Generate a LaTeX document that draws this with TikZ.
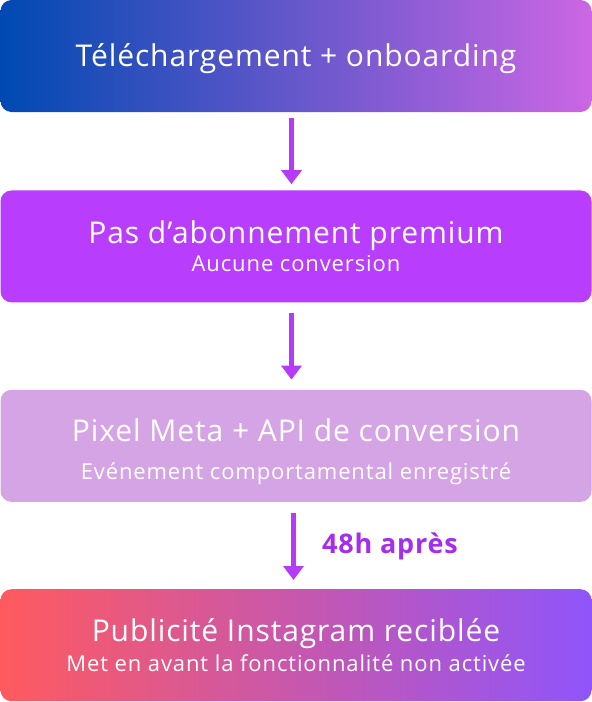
\documentclass[tikz,border=0pt]{standalone}
\usepackage{fontspec}
\setmainfont{Open Sans}
\newfontfamily\titlefont[LetterSpace=3]{Open Sans}
\newfontfamily\subfont[LetterSpace=4]{Open Sans}
\usepackage{tikz}
\usetikzlibrary{arrows.meta}
\usetikzlibrary{positioning}

\definecolor{downloadleft}{HTML}{0049B2}
\definecolor{downloadright}{HTML}{CC66E4}
\definecolor{premiumfill}{HTML}{B83DFD}
\definecolor{pixelfill}{HTML}{D5A4E5}
\definecolor{adleft}{HTML}{FF5A5F}
\definecolor{adright}{HTML}{8F55FB}
\definecolor{flowarrow}{HTML}{B53BF8}
\definecolor{delaytext}{HTML}{A52EEC}

\newcommand{\subline}[1]{{\subfont\fontsize{22pt}{24pt}\selectfont #1}}

\begin{document}
\begin{tikzpicture}[
		x=1pt,
		y=1pt,
		font=\titlefont\fontsize{30pt}{28pt}\selectfont,
		>={Triangle[length=14,width=20]},
		node distance=78
	]
		\tikzset{stepbox/.style={
			rectangle,
			rounded corners=11,
			minimum width=591,
			minimum height=112,
			inner sep=0,
			text=white,
			align=center,
		}}
		\tikzset{flow/.style={
			->,
			draw=flowarrow,
			fill=flowarrow,
			line width=4.5,
		}}

		\useasboundingbox (0,0) rectangle (592,-702);

		\node[stepbox, left color=downloadleft, right color=downloadright, text height=21.4, text depth=0] (download) at (296,-56) {Téléchargement + onboarding};
		\node[stepbox, fill=premiumfill, below=78 of download] (nopremium) {Pas d’abonnement premium\\\subline{Aucune conversion}};
		\node[stepbox, fill=pixelfill, below=87 of nopremium, text height=72] (pixel) {Pixel Meta + API de conversion\\[9.5pt]\subline{Evénement comportamental enregistré}};
		\node[stepbox, left color=adleft, right color=adright, below=87 of pixel] (retarget) {Publicité Instagram reciblée\\[2pt]\subline{Met en avant la fonctionnalité non activée}};

		\draw[flow] ([xshift=-4.5,yshift=-6]download.south) -- ([xshift=-4.5,yshift=6]nopremium.north);
		\draw[flow] ([xshift=-4.5,yshift=-10]nopremium.south) -- ([xshift=-4.5,yshift=10]pixel.north);
		\draw[flow] ([xshift=-2.5,yshift=-11]pixel.south) -- node[right=23, text=delaytext, font=\titlefont\fontsize{27pt}{29pt}\selectfont\bfseries] (delay) {48h après} ([xshift=-2.5,yshift=9]retarget.north);
	\end{tikzpicture}
\end{document}
